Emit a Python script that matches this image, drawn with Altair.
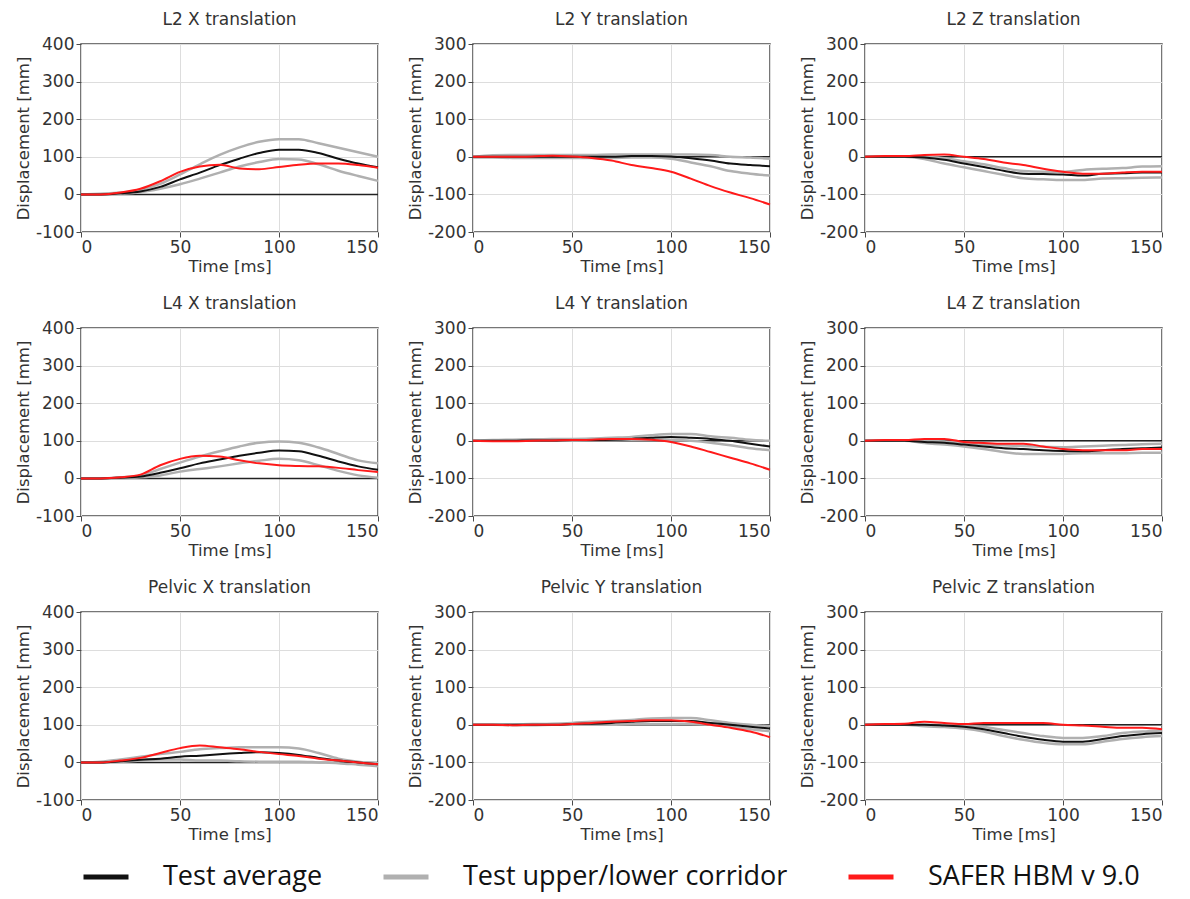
import altair as alt
import pandas as pd

TIME = [0, 10, 20, 30, 40, 50, 60, 70, 80, 90, 100, 110, 120, 130, 140, 150]

# L2 X translation
L2X_AVG = [0, 0, 3, 8, 20, 40, 58, 78, 95, 110, 119, 119, 110, 95, 82, 72]
L2X_UP = [0, 2, 5, 12, 28, 53, 80, 105, 125, 140, 147, 147, 136, 124, 112, 100]
L2X_LO = [0, 0, 2, 6, 15, 27, 42, 58, 74, 86, 94, 93, 80, 63, 49, 36]
L2X_SIM = [0, 0, 5, 15, 35, 60, 74, 79, 69, 67, 73, 79, 82, 82, 78, 71]
# L2 Y translation
L2Y_AVG = [0, 0, 0, 0, 0, 0, 0, 0, 2, 2, 1, -4, -10, -18, -22, -25]
L2Y_UP = [0, 4, 5, 5, 5, 5, 5, 6, 6, 6, 6, 6, 5, 0, -2, -5]
L2Y_LO = [-2, -2, -3, -3, -3, -3, -3, -3, -2, -2, -5, -15, -25, -38, -45, -50]
L2Y_SIM = [0, 0, 0, 1, 3, 1, -3, -10, -22, -30, -40, -58, -78, -95, -110, -127]
# L2 Z translation
L2Z_AVG = [0, 0, 0, -2, -8, -18, -27, -37, -45, -46, -47, -50, -45, -44, -42, -42]
L2Z_UP = [0, 0, 0, 0, -4, -12, -20, -30, -38, -40, -40, -35, -32, -30, -26, -25]
L2Z_LO = [0, 0, 0, -6, -18, -28, -38, -48, -57, -60, -62, -62, -58, -57, -56, -55]
L2Z_SIM = [0, 2, 2, 5, 6, 0, -6, -15, -22, -32, -40, -45, -45, -42, -40, -40]
# L4 X translation
L4X_AVG = [0, 0, 2, 5, 15, 27, 40, 50, 60, 68, 74, 72, 60, 45, 32, 23]
L4X_UP = [0, 0, 3, 8, 25, 42, 58, 72, 85, 95, 98, 95, 82, 65, 48, 40]
L4X_LO = [0, 0, 1, 3, 8, 18, 25, 32, 40, 47, 52, 48, 35, 20, 8, 2]
L4X_SIM = [0, 0, 3, 10, 35, 52, 60, 58, 48, 40, 35, 33, 32, 28, 22, 17]
# L4 Y translation
L4Y_AVG = [0, 0, 0, 1, 1, 2, 2, 3, 5, 8, 10, 8, 5, 0, -8, -15]
L4Y_UP = [0, 2, 3, 4, 5, 5, 6, 8, 10, 15, 18, 18, 12, 8, 3, 0]
L4Y_LO = [0, 0, 0, 0, 1, 1, 2, 2, 3, 3, 3, 0, -5, -12, -20, -25]
L4Y_SIM = [0, -1, -1, 0, 1, 2, 3, 5, 5, 3, -3, -15, -30, -45, -60, -77]
# L4 Z translation
L4Z_AVG = [0, 0, 0, -3, -5, -10, -15, -20, -22, -25, -27, -28, -25, -22, -20, -18]
L4Z_UP = [0, 0, 0, 0, -2, -6, -10, -12, -14, -16, -17, -15, -13, -11, -9, -8]
L4Z_LO = [0, 0, 0, -6, -10, -15, -22, -30, -35, -35, -35, -33, -33, -33, -32, -32]
L4Z_SIM = [0, 2, 2, 5, 5, -3, -6, -8, -8, -15, -22, -25, -25, -25, -22, -22]
# Pelvic X translation
PX_AVG = [0, 0, 3, 7, 10, 15, 18, 22, 25, 27, 25, 20, 12, 5, 0, -5]
PX_UP = [0, 2, 8, 15, 22, 28, 35, 38, 40, 40, 40, 37, 25, 10, 2, -2]
PX_LO = [0, 0, 2, 5, 8, 8, 5, 5, 3, 2, 2, 2, 0, -2, -6, -10]
PX_SIM = [0, 0, 5, 12, 25, 38, 45, 40, 35, 28, 22, 17, 10, 5, 0, -5]
# Pelvic Y translation
PY_AVG = [0, 0, 0, 0, 0, 2, 3, 5, 8, 10, 10, 10, 5, 0, -5, -10]
PY_UP = [0, 0, 1, 2, 3, 5, 8, 10, 13, 17, 18, 18, 12, 5, 0, -3]
PY_LO = [0, 0, -1, -1, 0, 0, 0, 0, 2, 2, 2, 3, 0, -5, -12, -17]
PY_SIM = [0, 0, -1, 0, 0, 2, 5, 8, 10, 12, 12, 8, 0, -8, -18, -33]
# Pelvic Z translation
PZ_AVG = [0, 0, 0, 0, -2, -5, -12, -22, -32, -40, -45, -45, -38, -30, -25, -22]
PZ_UP = [0, 0, 0, 0, 0, -2, -6, -14, -22, -30, -35, -35, -30, -22, -18, -15]
PZ_LO = [0, 0, 0, -4, -6, -10, -18, -30, -40, -48, -52, -52, -45, -38, -33, -30]
PZ_SIM = [0, 2, 3, 8, 5, 2, 5, 5, 5, 5, 0, -2, -5, -8, -8, -12]

TITLES = [
    ["L2 X translation", "L2 Y translation", "L2 Z translation"],
    ["L4 X translation", "L4 Y translation", "L4 Z translation"],
    ["Pelvic X translation", "Pelvic Y translation", "Pelvic Z translation"],
]
DATA = [
    [(L2X_AVG, L2X_UP, L2X_LO, L2X_SIM), (L2Y_AVG, L2Y_UP, L2Y_LO, L2Y_SIM), (L2Z_AVG, L2Z_UP, L2Z_LO, L2Z_SIM)],
    [(L4X_AVG, L4X_UP, L4X_LO, L4X_SIM), (L4Y_AVG, L4Y_UP, L4Y_LO, L4Y_SIM), (L4Z_AVG, L4Z_UP, L4Z_LO, L4Z_SIM)],
    [(PX_AVG, PX_UP, PX_LO, PX_SIM), (PY_AVG, PY_UP, PY_LO, PY_SIM), (PZ_AVG, PZ_UP, PZ_LO, PZ_SIM)],
]
Y_DOMAINS = [[-100, 400], [-200, 300], [-200, 300]]
X_TICKS = [0, 50, 100, 150]
ZERO = [0]

SERIES = ["Test average", "Test upper/lower corridor", "SAFER HBM v 9.0"]
COLORS = ["#111111", "#b0b0b0", "#ff1a1a"]

FONT = "DejaVu Sans"
PW, PH = 297, 188


def panel(title, arrays, ydom):
    avg, up, lo, sim = arrays
    rows = []
    for name, series, vals in [("upper", SERIES[1], up), ("lower", SERIES[1], lo),
                               ("avg", SERIES[0], avg), ("sim", SERIES[2], sim)]:
        for t, v in zip(TIME, vals):
            rows.append({"time": t, "value": v, "series": series, "line": name})
    df = pd.DataFrame(rows)
    yvals = list(range(ydom[0], ydom[1] + 1, 100))
    x = alt.X("time:Q", scale=alt.Scale(domain=[0, 150], nice=False),
              axis=alt.Axis(values=X_TICKS, title="Time [ms]", labelExpr="'' + datum.value"))
    y = alt.Y("value:Q", scale=alt.Scale(domain=ydom, nice=False),
              axis=alt.Axis(values=yvals, title="Displacement [mm]", labelExpr="'' + datum.value",
                            labelOverlap=False, tickCount=len(yvals)))
    color = alt.Color("series:N", scale=alt.Scale(domain=SERIES, range=COLORS),
                      legend=alt.Legend(title=None))
    base = alt.Chart(df)
    zero = alt.Chart(pd.DataFrame({"value": ZERO})).mark_rule(
        color="#222222", strokeWidth=1.5).encode(y=y)
    corr = base.transform_filter(alt.datum.series == SERIES[1]).mark_line(
        strokeWidth=2.5, interpolate="monotone").encode(x=x, y=y, color=color, detail="line:N")
    av = base.transform_filter(alt.datum.series == SERIES[0]).mark_line(
        strokeWidth=2, interpolate="monotone").encode(x=x, y=y, color=color)
    sm = base.transform_filter(alt.datum.series == SERIES[2]).mark_line(
        strokeWidth=2, interpolate="monotone").encode(x=x, y=y, color=color)
    return alt.layer(zero, corr, av, sm).properties(
        width=PW, height=PH,
        title=alt.TitleParams(title, fontSize=17, font=FONT, fontWeight="normal", color="#333333", offset=6),
    )


rows = []
for r in range(3):
    rows.append(alt.hconcat(*[panel(TITLES[r][c], DATA[r][c], Y_DOMAINS[c]) for c in range(3)], spacing=22))

chart = alt.vconcat(*rows, spacing=18).configure_view(
    stroke="#4a4a4a", strokeWidth=1.5
).configure_axis(
    domain=False, grid=True, gridColor="#dddddd", gridWidth=1, labelOverlap=False,
    labelFont=FONT, labelFontSize=17, labelColor="#333333",
    titleFont=FONT, titleFontSize=16.5, titleColor="#333333", titleFontWeight="normal",
    tickColor="#4a4a4a", tickSize=5, labelPadding=2,
).configure_axisY(titlePadding=4).configure_axisX(titlePadding=3).configure_legend(
    orient="bottom", offset=8, direction="horizontal",
    symbolType="stroke", symbolSize=2025, symbolStrokeWidth=5,
    labelFont="Open Sans", labelFontSize=27, labelColor="#111111", labelOffset=32,
    columnPadding=50, labelLimit=600,
).properties(padding={"left": 6, "top": 2, "right": 2, "bottom": 2})

chart.save("out.html", embed_options={"renderer": "svg", "actions": False})
